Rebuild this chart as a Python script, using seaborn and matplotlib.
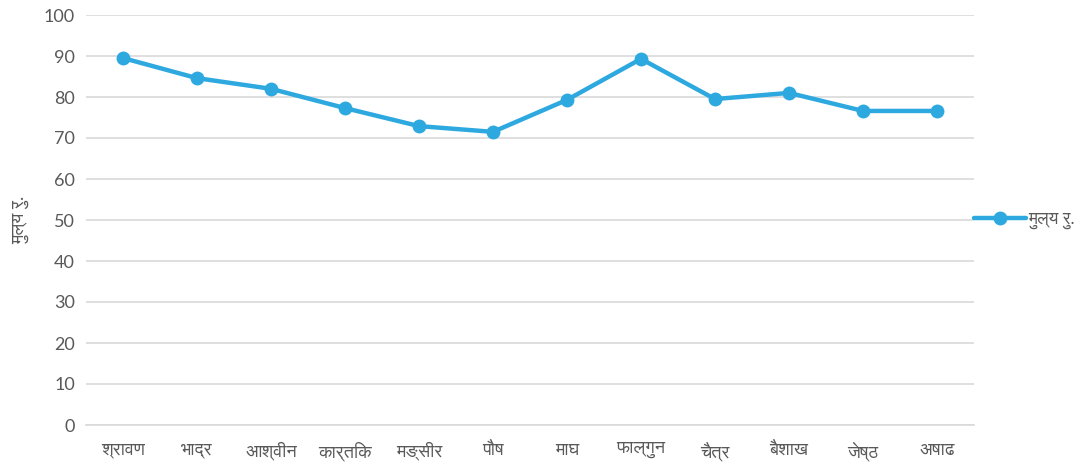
import matplotlib
matplotlib.use("Agg")
import matplotlib.pyplot as plt
import seaborn as sns
import pandas as pd
from matplotlib import font_manager
from matplotlib.ft2font import FT2Font

months = ["श्रावण", "भाद्र", "आश्वीन", "कार्तिक", "मङ्सीर", "पौष",
          "माघ", "फाल्गुन", "चैत्र", "बैशाख", "जेष्ठ", "अषाढ"]
values = [89.5, 84.6, 82.0, 77.3, 72.9, 71.5, 79.3, 89.3, 79.5, 81.0, 76.6, 76.6]
series_name = "मुल्य रु."
y_ticks = list(range(0, 101, 10))

# find installed fonts with Devanagari glyphs, prefer proportional sans ones
cands = []
for f in font_manager.fontManager.ttflist:
    try:
        if 0x0915 in FT2Font(f.fname).get_charmap():
            n = f.name
            score = 0
            if "mono" in n.lower():
                score += 10
            if "sans" not in n.lower():
                score += 2
            if f.weight not in (400, "normal", "regular"):
                score += 1
            cands.append((score, n))
    except Exception:
        pass
cands.sort()
dev_font = cands[0][1] if cands else None

sns.set_theme(style="white")
fams = ["Lato"] + ([dev_font] if dev_font else []) + ["DejaVu Sans"]
plt.rcParams["font.family"] = fams

df = pd.DataFrame({"month": months, "value": values, "series": series_name})

fig = plt.figure(figsize=(10.87, 4.70), dpi=100)
ax = fig.add_axes([86 / 1087, 45 / 470, (974 - 86) / 1087, (425 - 15) / 470])

color = "#2EA9E0"
sns.lineplot(data=df, x="month", y="value", hue="series", palette=[color],
             sort=False, marker="o", markersize=10, linewidth=3.2,
             markeredgewidth=0, ax=ax)

ax.set_ylim(0, 100)
ax.set_xlim(-0.5, len(months) - 0.5)
ax.set_yticks(y_ticks)
ax.yaxis.grid(True, color="#d9d9d9", linewidth=1.2)
ax.xaxis.grid(False)
for s in ["top", "right", "left"]:
    ax.spines[s].set_visible(False)
ax.spines["bottom"].set_color("#d9d9d9")
ax.spines["bottom"].set_linewidth(1.2)
ax.tick_params(axis="both", length=0, labelsize=13, colors="#595959")
ax.tick_params(axis="y", pad=8)
ax.tick_params(axis="x", pad=12)
ax.set_xlabel("")
ax.set_ylabel(series_name, fontsize=13, color="#595959")
ax.yaxis.set_label_coords(-0.064, 0.5)

leg = ax.legend(loc="center left", bbox_to_anchor=(1.0, 0.5), frameon=False,
                fontsize=12.5, handlelength=3.0, handletextpad=0.1,
                borderaxespad=0.0, borderpad=0.0)
for t in leg.get_texts():
    t.set_color("#595959")

fig.savefig("out.png", dpi=100)
